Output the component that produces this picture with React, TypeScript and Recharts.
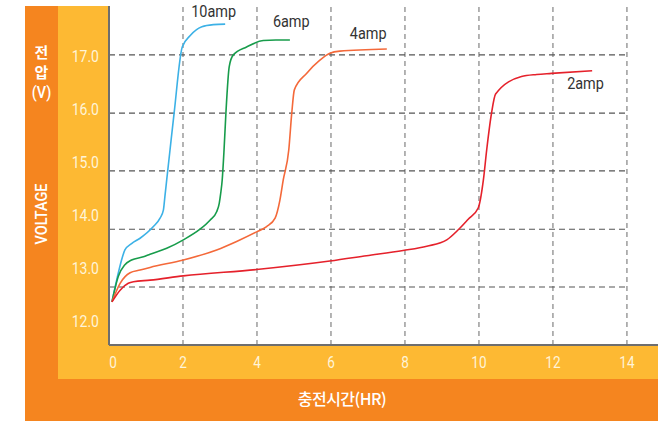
import React from 'react';
import { LineChart, Line, XAxis, YAxis, ReferenceLine } from 'recharts';

// charging time (hours) and voltage
const hours10 = [0.08, 0.25, 0.34, 0.43, 0.61, 0.84, 1.2, 1.38, 1.47, 1.51, 1.56, 1.65, 1.76, 1.98, 2.19, 2.51, 2.82, 3.14];
const volts10 = [12.38, 12.92, 13.17, 13.36, 13.48, 13.58, 13.8, 13.96, 14.11, 14.36, 14.68, 15.25, 15.94, 17.19, 17.4, 17.57, 17.61, 17.62];

const hours6 = [0.08, 0.25, 0.43, 0.61, 0.93, 1.11, 1.56, 2.01, 2.46, 2.73, 2.91, 2.98, 3.02, 3.06, 3.11, 3.16, 3.25, 3.36, 3.72, 4.17, 4.51, 4.89];
const volts6 = [12.38, 12.86, 13.08, 13.17, 13.23, 13.28, 13.39, 13.55, 13.75, 13.92, 14.08, 14.24, 14.43, 14.68, 15.25, 15.94, 16.82, 17.04, 17.19, 17.31, 17.32, 17.32];

const hours4 = [0.08, 0.3, 0.57, 0.84, 1.11, 2.01, 2.91, 3.45, 3.99, 4.26, 4.49, 4.62, 4.71, 4.86, 4.94, 5.01, 5.34, 5.7, 5.97, 6.24, 7.51];
const volts4 = [12.38, 12.73, 12.93, 12.98, 13.03, 13.17, 13.36, 13.52, 13.7, 13.8, 13.96, 14.3, 14.68, 15.25, 15.94, 16.38, 16.69, 16.94, 17.07, 17.11, 17.15];

const hours2 = [0.08, 0.3, 0.52, 0.66, 1.11, 2.01, 3.99, 5.97, 6.96, 7.95, 8.59, 9.13, 9.44, 9.71, 9.98, 10.12, 10.21, 10.34, 10.45, 11.15, 11.56, 11.96, 13.06];
const volts2 = [12.38, 12.6, 12.73, 12.76, 12.79, 12.87, 12.99, 13.15, 13.25, 13.35, 13.43, 13.55, 13.74, 13.94, 14.15, 14.68, 15.25, 15.94, 16.3, 16.63, 16.67, 16.69, 16.74];

const seriesNames = ['10amp', '6amp', '4amp', '2amp'];
const xTicks = [0, 2, 4, 6, 8, 10, 12, 14];
const yTicks = [12, 13, 14, 15, 16, 17];
// the dashed horizontal rules in the original sit a little off the labels
const hGrid = [12.66, 13.75, 14.85, 15.94, 17.04];

const zip = (t: number[], v: number[]) => t.map((h, i) => ({ t: h, v: v[i] }));

const series = [
  { name: seriesNames[0], data: zip(hours10, volts10), color: '#3cb1e6', dx: -34, dy: -7 },
  { name: seriesNames[1], data: zip(hours6, volts6), color: '#179c4b', dx: -17, dy: -13 },
  { name: seriesNames[2], data: zip(hours4, volts4), color: '#f4693a', dx: -37, dy: -10 },
  { name: seriesNames[3], data: zip(hours2, volts2), color: '#e5212b', dx: -25, dy: 18 },
];

const FONT = "Roboto, 'Noto Sans', sans-serif";
const KR = "'Noto Sans CJK KR', 'Noto Sans', sans-serif";
const DARK = '#f5851f';
const LIGHT = '#fdb933';
const SQUEEZE = 0.85;

const box = (left: number, top: number, width: number, height: number, bg: string): React.CSSProperties => ({
  position: 'absolute', left, top, width, height, background: bg,
});

// condensed-looking svg text
const Narrow = ({ x, y, anchor, size, fill, children }: any) => (
  <g transform={`translate(${x},${y}) scale(${SQUEEZE},1)`}>
    <text x={0} y={0} textAnchor={anchor} fill={fill} fontSize={size} fontFamily={FONT}>
      {children}
    </text>
  </g>
);

const XTick = (p: any) => (
  <Narrow x={p.x + (p.payload.value === 0 ? 4 : 0)} y={p.y + 21} anchor="middle" size={16} fill="#fff4d8">
    {p.payload.value}
  </Narrow>
);

const YTick = (p: any) => (
  <Narrow x={p.x} y={p.y + 5.5} anchor="end" size={16.5} fill="#fff4d8">
    {Number(p.payload.value).toFixed(1)}
  </Narrow>
);

export default function App() {
  return (
    <div style={{ position: 'absolute', left: 0, top: 0, width: 671, height: 421, background: '#fff' }}>
      <div style={box(25, 6, 33, 415, DARK)} />
      <div style={box(25, 379, 633, 42, DARK)} />
      <div style={box(58, 6, 51, 373, LIGHT)} />
      <div style={box(58, 345, 600, 34, LIGHT)} />

      <div style={{ position: 'absolute', left: 25, top: 42, width: 33, textAlign: 'center', color: '#fff',
        fontFamily: KR, fontWeight: 700, fontSize: 15, lineHeight: '20px' }}>
        <div>전</div>
        <div>압</div>
        <div style={{ fontFamily: FONT, fontWeight: 500, fontSize: 17, transform: `scaleX(${SQUEEZE})` }}>(V)</div>
      </div>
      <div style={{ position: 'absolute', left: 41, top: 214,
        transform: `translate(-50%, -50%) rotate(-90deg) scaleX(${SQUEEZE})`,
        color: '#fff', fontFamily: FONT, fontWeight: 500, fontSize: 17, whiteSpace: 'nowrap' }}>
        VOLTAGE
      </div>
      <div style={{ position: 'absolute', left: 342, top: 398, transform: 'translate(-50%, -50%)',
        color: '#fff', fontFamily: KR, fontWeight: 500, fontSize: 16, whiteSpace: 'nowrap', letterSpacing: -0.5 }}>
        충전시간(HR)
      </div>

      <div style={{ position: 'absolute', left: 0, top: 0 }}>
        <LineChart width={671} height={421} margin={{ top: 6, right: 13, bottom: 42, left: 58 }}>
          <XAxis type="number" dataKey="t" domain={[0, 14.84]} ticks={xTicks} allowDataOverflow
            height={34} tickSize={0} tickLine={false} tick={<XTick />}
            axisLine={{ stroke: '#6e6e6e', strokeWidth: 2 }} />
          <YAxis type="number" dataKey="v" domain={[11.566, 17.962]} ticks={yTicks} allowDataOverflow
            width={51} tickSize={0} tickMargin={10} tickLine={false} tick={<YTick />}
            axisLine={{ stroke: '#6e6e6e', strokeWidth: 2 }} />
          {xTicks.slice(1).map((x) => (
            <ReferenceLine key={`vx-${x}`} x={x} stroke="#8c8c8c" strokeWidth={1.3} strokeDasharray="5 4" />
          ))}
          {hGrid.map((y) => (
            <ReferenceLine key={`hy-${y}`} segment={[{ x: 0, y }, { x: 14, y }]}
              stroke="#555" strokeWidth={1.2} strokeDasharray="6 4" />
          ))}
          {series.map((s) => (
            <Line key={s.name} data={s.data} dataKey="v" type="monotone" stroke={s.color}
              strokeWidth={1.6} strokeLinejoin="round" dot={false} isAnimationActive={false}
              label={(p: any) =>
                p.index === s.data.length - 1 ? (
                  <Narrow key={`lbl-${s.name}`} x={p.x + s.dx} y={p.y + s.dy} anchor="start" size={17} fill="#333">
                    {s.name}
                  </Narrow>
                ) : null
              } />
          ))}
        </LineChart>
      </div>
    </div>
  );
}
